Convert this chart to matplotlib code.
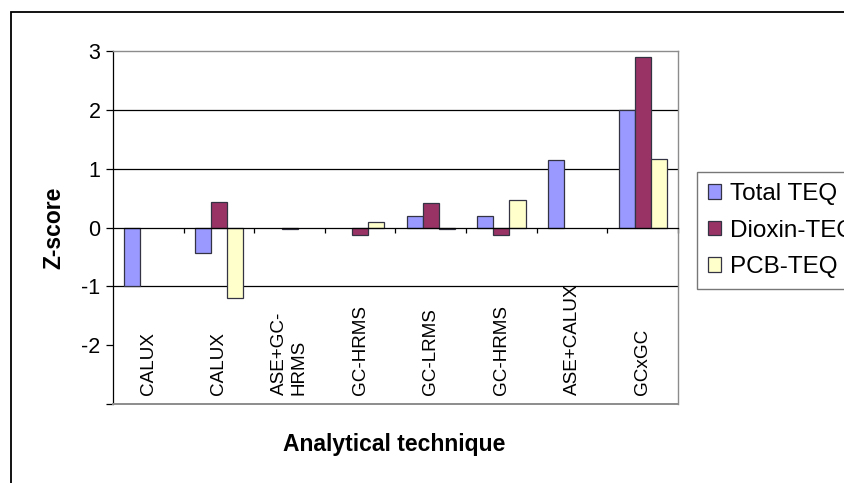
import numpy as np
import matplotlib
matplotlib.use("Agg")
import matplotlib.pyplot as plt
from matplotlib.patches import Rectangle

plt.rcParams['font.family'] = ['Liberation Sans', 'DejaVu Sans']

# --- data; nan = no bar ---
nan = np.nan
techniques = ["CALUX", "CALUX", "ASE+GC-\nHRMS", "GC-HRMS", "GC-LRMS", "GC-HRMS", "ASE+CALUX", "GCxGC"]
total_teq = [-1.00, -0.43, nan, nan, 0.19, 0.19, 1.14, 2.00]
dioxin_teq = [nan, 0.44, -0.03, -0.12, 0.41, -0.12, nan, 2.90]
pcb_teq = [nan, -1.20, nan, 0.10, -0.03, 0.47, nan, 1.17]
series_names = ["Total TEQ", "Dioxin-TEQ", "PCB-TEQ"]
colors = ["#9999FF", "#993366", "#FFFFCC"]
yticks = [-3, -2, -1, 0, 1, 2, 3]
ytick_labels = ["", "-2", "-1", "0", "1", "2", "3"]
grid_at = [-1, 1, 2]

W, H = 845, 483
fig = plt.figure(figsize=(W / 100, H / 100), dpi=100)
fig.patch.set_facecolor("white")
ax = fig.add_axes([113 / W, 1 - 404 / H, (678 - 113) / W, (404 - 51) / H])

# outer chart frame
fig.patches.append(Rectangle((11 / W, -0.1), 1.2, 1 - 12 / H + 0.1, transform=fig.transFigure,
                             fill=False, edgecolor="black", linewidth=1.3, clip_on=False))

x = np.arange(len(techniques)) + 0.5
w = 0.228
for k, (vals, name, c) in enumerate(zip([total_teq, dioxin_teq, pcb_teq], series_names, colors)):
    v = np.array(vals, dtype=float)
    ax.bar(x + (k - 1) * w, v, width=w, color=c, edgecolor="#333344", linewidth=0.9,
           label=name, zorder=3)

for g in grid_at:
    ax.axhline(g, color="black", linewidth=0.9, zorder=1)

ax.set_xlim(0, len(techniques))
ax.set_ylim(-3, 3)
ax.set_yticks(yticks)
ax.set_yticklabels(ytick_labels, fontsize=15.5)
ax.tick_params(axis="y", direction="out", length=5, width=0.9, pad=4)

# category axis sits on the zero line
ax.spines["bottom"].set_position(("data", 0))
ax.spines["bottom"].set_color("black")
ax.spines["bottom"].set_linewidth(0.9)
ax.spines["bottom"].set_zorder(4)
ax.set_xticks(np.arange(1, len(techniques) + 1))
ax.set_xticklabels([])
ax.tick_params(axis="x", direction="out", length=3.5, width=0.9)
ax.spines["left"].set_color("black")
ax.spines["left"].set_linewidth(0.9)
for s in ["top", "right"]:
    ax.spines[s].set_color("#8c8c8c")
    ax.spines[s].set_linewidth(1.0)
ax.axhline(-3, color="#8c8c8c", linewidth=1.4, zorder=5, clip_on=False)

for xi, lab in zip(x, techniques):
    ax.text(xi, -3 + 9 / 58.8, lab, rotation=90, ha="center", va="bottom",
            multialignment="left", fontsize=13.6, zorder=6)

ax.set_ylabel("Z-score", fontsize=16.5, fontweight="bold")
ax.yaxis.set_label_coords(-0.084, 0.5)
fig.text(394 / W, 1 - 445 / H, "Analytical technique", ha="center", va="center",
         fontsize=16.5, fontweight="bold")

leg = ax.legend(loc="upper left", bbox_to_anchor=(697 / W, 1 - 172 / H),
                bbox_transform=fig.transFigure, fontsize=17.5, frameon=True,
                fancybox=False, edgecolor="#555555", handlelength=0.55, handleheight=0.55,
                handletextpad=0.35, labelspacing=0.6, borderpad=0.45, borderaxespad=0)
leg.get_frame().set_linewidth(1.0)

fig.savefig("out.png", dpi=100)
